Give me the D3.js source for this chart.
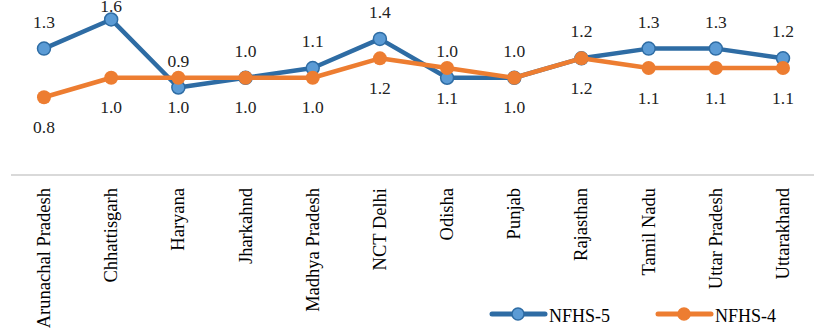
<!DOCTYPE html>
<html lang="en">
<head>
<meta charset="UTF-8">
<title>NFHS-5 vs NFHS-4</title>
<script src="https://d3js.org/d3.v7.min.js"></script>
<style>
  body { margin: 0; background: #fff; }
  svg { display: block; }
</style>
</head>
<body>
<svg width="814" height="335" font-family="Liberation Serif"></svg>
<script>
  const states = ["Arunachal Pradesh", "Chhattisgarh", "Haryana", "Jharkahnd", "Madhya Pradesh",
    "NCT Delhi", "Odisha", "Punjab", "Rajasthan", "Tamil Nadu", "Uttar Pradesh", "Uttarakhand"];
  const nfhs5 = [1.3, 1.6, 0.9, 1.0, 1.1, 1.4, 1.0, 1.0, 1.2, 1.3, 1.3, 1.2];
  const nfhs4 = [0.8, 1.0, 1.0, 1.0, 1.0, 1.2, 1.1, 1.0, 1.2, 1.1, 1.1, 1.1];

  const blueLine = "#2e6ca4", blueFill = "#5b9bd5", orange = "#ed7d31";
  const FONT = "Liberation Serif";

  const svg = d3.select("svg");
  const x = d3.scalePoint().domain(states).range([10.4, 816.6]).padding(0.5);
  const y = d3.scaleLinear().domain([0, 1.8]).range([175, 0]);

  // category axis (baseline only, no ticks)
  svg.append("line")
    .attr("x1", 11).attr("x2", 814)
    .attr("y1", y(0)).attr("y2", y(0))
    .attr("stroke", "#d9d9d9").attr("stroke-width", 2);

  svg.selectAll(".cat").data(states).enter().append("text")
    .attr("class", "cat")
    .attr("font-family", FONT).attr("font-size", 18.5).attr("fill", "#000")
    .attr("transform", d => `translate(${x(d) + 6},188) rotate(-90)`)
    .attr("text-anchor", "end")
    .text(d => d);

  const line = d3.line().x((d, i) => x(states[i])).y(d => y(d));

  // NFHS-5 drawn first, NFHS-4 sits on top
  svg.append("path").datum(nfhs5)
    .attr("d", line).attr("fill", "none")
    .attr("stroke", blueLine).attr("stroke-width", 4.5).attr("stroke-linejoin", "round");
  svg.selectAll(".m5").data(nfhs5).enter().append("circle")
    .attr("cx", (d, i) => x(states[i])).attr("cy", d => y(d)).attr("r", 6.5)
    .attr("fill", blueFill).attr("stroke", blueLine).attr("stroke-width", 1.5);

  svg.append("path").datum(nfhs4)
    .attr("d", line).attr("fill", "none")
    .attr("stroke", orange).attr("stroke-width", 4.5).attr("stroke-linejoin", "round");
  svg.selectAll(".m4").data(nfhs4).enter().append("circle")
    .attr("cx", (d, i) => x(states[i])).attr("cy", d => y(d)).attr("r", 7)
    .attr("fill", orange);

  // data labels: NFHS-5 above, NFHS-4 below
  svg.selectAll(".v5").data(nfhs5).enter().append("text")
    .attr("class", "val")
    .attr("font-family", FONT).attr("font-size", 17.5).attr("fill", "#222")
    .attr("x", (d, i) => x(states[i])).attr("y", d => Math.max(y(d) - 21, 12))
    .attr("text-anchor", "middle")
    .text(d => d.toFixed(1));
  svg.selectAll(".v4").data(nfhs4).enter().append("text")
    .attr("class", "val")
    .attr("font-family", FONT).attr("font-size", 17.5).attr("fill", "#222")
    .attr("x", (d, i) => x(states[i])).attr("y", d => y(d) + 35.5)
    .attr("text-anchor", "middle")
    .text(d => d.toFixed(1));

  // legend
  const legend = [
    { name: "NFHS-5", stroke: blueLine, fill: blueFill, x0: 490 },
    { name: "NFHS-4", stroke: orange, fill: orange, x0: 656 }
  ];
  const lg = svg.selectAll(".lg").data(legend).enter().append("g")
    .attr("transform", d => `translate(${d.x0},314)`);
  lg.append("line").attr("x1", 2).attr("x2", 55)
    .attr("stroke", d => d.stroke).attr("stroke-width", 5).attr("stroke-linecap", "round");
  lg.append("circle").attr("cx", 28).attr("r", 6)
    .attr("fill", d => d.fill).attr("stroke", d => d.stroke).attr("stroke-width", 1.5);
  lg.append("text").attr("class", "leg")
    .attr("font-family", FONT).attr("font-size", 18).attr("fill", "#000")
    .attr("x", 59).attr("y", 7.5).text(d => d.name);
</script>
</body>
</html>
